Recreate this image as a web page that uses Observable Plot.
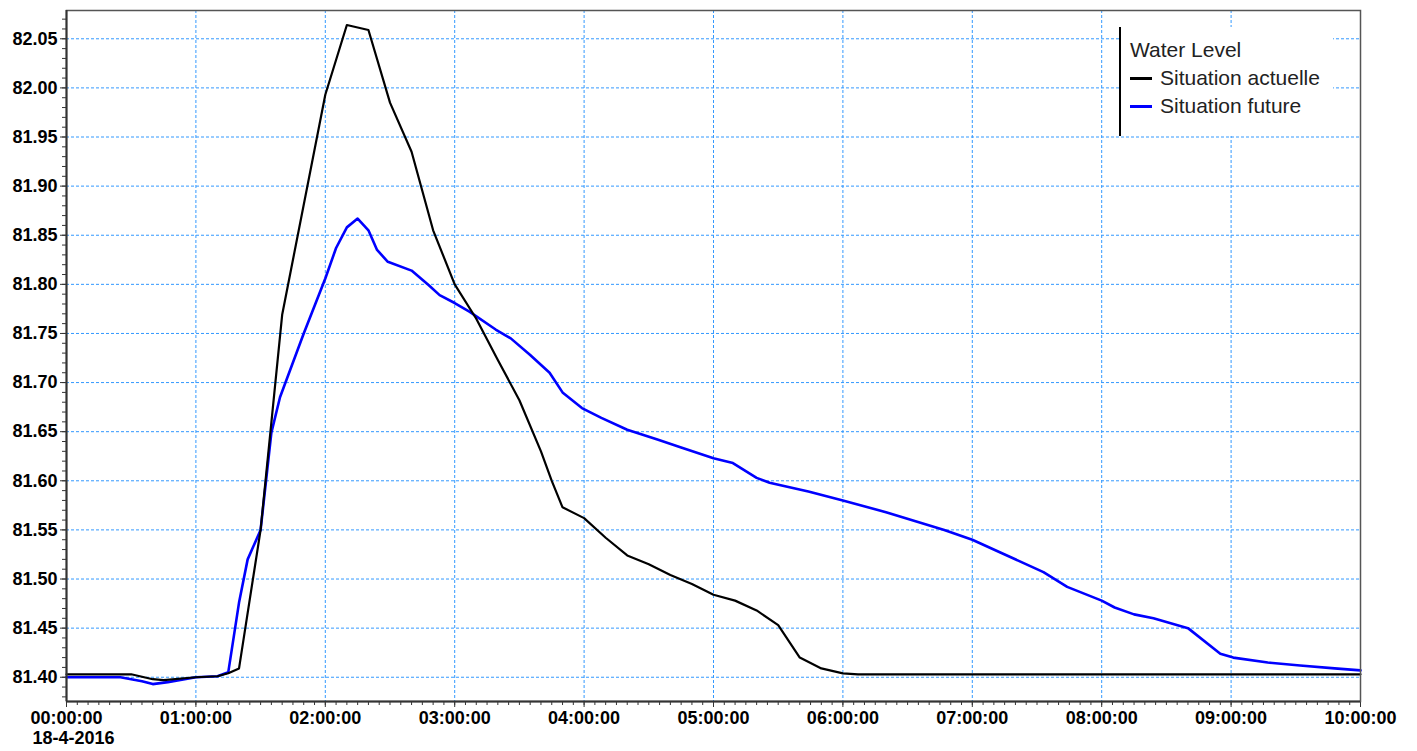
<!DOCTYPE html>
<html>
<head>
<meta charset="utf-8">
<script src="https://cdn.jsdelivr.net/npm/d3@7"></script>
<script src="https://cdn.jsdelivr.net/npm/@observablehq/plot@0.6"></script>
<style>
  html, body { margin: 0; padding: 0; background: #fff; }
  #wrap { position: relative; width: 1417px; height: 751px; }
  #legend {
    position: absolute; left: 1119px; top: 27px; width: 214px; height: 109px;
    background: #fff; border-left: 2px solid #000; box-sizing: border-box;
    font-family: "Liberation Sans", Arial, sans-serif; font-size: 21px; color: #222;
    padding: 9px 0 0 9px; line-height: 28px;
  }
  #legend .row { display: flex; align-items: center; white-space: nowrap; }
  #legend .sw { display: inline-block; width: 22px; height: 3px; margin-right: 8px; }
</style>
</head>
<body>
<div id="wrap"></div>
<script>
// ---- Data (time in minutes since 00:00:00 on 18-4-2016, water level in m) ----
const actualTime = [0, 30, 40, 45, 60, 70, 75, 80, 90, 100, 120, 130, 140, 150, 160, 170, 180, 190, 200, 210, 220, 225, 230, 240, 250, 260, 270, 280, 290, 300, 310, 320, 330, 340, 350, 360, 367, 600];
const actualLevel = [81.403, 81.403, 81.398, 81.397, 81.400, 81.401, 81.404, 81.409, 81.55, 81.769, 81.993, 82.064, 82.059, 81.985, 81.935, 81.855, 81.800, 81.765, 81.723, 81.682, 81.630, 81.600, 81.573, 81.562, 81.542, 81.524, 81.515, 81.504, 81.495, 81.484, 81.478, 81.468, 81.453, 81.420, 81.409, 81.404, 81.403, 81.403];

const futureTime = [0, 25, 35, 40, 47, 60, 70, 75, 80, 84, 90, 95, 99, 110, 120, 125, 130, 135, 140, 144, 149, 160, 168, 173, 180, 187, 199, 206, 215, 224, 230, 239, 248, 260, 274, 285, 300, 309, 320, 326, 344, 360, 380, 407, 420, 433, 453, 464, 480, 486, 495, 504, 520, 535, 541, 557, 572, 588, 600];
const futureLevel = [81.400, 81.400, 81.396, 81.393, 81.395, 81.400, 81.401, 81.405, 81.476, 81.520, 81.550, 81.649, 81.685, 81.750, 81.806, 81.837, 81.858, 81.867, 81.855, 81.835, 81.823, 81.814, 81.799, 81.789, 81.781, 81.772, 81.754, 81.745, 81.728, 81.710, 81.690, 81.674, 81.664, 81.652, 81.642, 81.634, 81.623, 81.618, 81.603, 81.598, 81.589, 81.580, 81.568, 81.550, 81.540, 81.527, 81.507, 81.492, 81.478, 81.471, 81.464, 81.460, 81.450, 81.424, 81.420, 81.415, 81.412, 81.409, 81.407];

const seriesNames = ["Situation actuelle", "Situation future"];
const seriesColors = ["#000000", "#0000ff"];
const legendTitle = "Water Level";
const dateLabel = "18-4-2016";

const yTicks = [81.40, 81.45, 81.50, 81.55, 81.60, 81.65, 81.70, 81.75, 81.80, 81.85, 81.90, 81.95, 82.00, 82.05];
const xTicks = [0, 60, 120, 180, 240, 300, 360, 420, 480, 540, 600];
const xTickLabels = ["00:00:00", "01:00:00", "02:00:00", "03:00:00", "04:00:00", "05:00:00", "06:00:00", "07:00:00", "08:00:00", "09:00:00", "10:00:00"];

// ---- Build ----
const yDomain = [81.3753, 82.0788];
const yMinor = d3.range(8138, 8208).map(v => v / 100).filter(v => v >= yDomain[0] && v <= yDomain[1]);
const xMinor = d3.range(0, 601, 5);

const actual = actualTime.map((t, i) => ({t, v: actualLevel[i]}));
const future = futureTime.map((t, i) => ({t, v: futureLevel[i]}));

const gridStyle = {stroke: "#3399ff", strokeOpacity: 1, strokeWidth: 1, strokeDasharray: "3,2"};
const labelFont = {fontSize: 18, fontWeight: "bold", fontFamily: "'Liberation Sans', Arial, sans-serif", fill: "#000"};

const chart = Plot.plot({
  width: 1417,
  height: 751,
  marginLeft: 66,
  marginRight: 57,
  marginTop: 10,
  marginBottom: 50,
  style: {fontFamily: "'Liberation Sans', Arial, sans-serif", fontSize: "18px", fontWeight: "bold", color: "#000", background: "#fff", overflow: "visible"},
  x: {domain: [0, 600], label: null},
  y: {domain: yDomain, label: null},
  marks: [
    Plot.gridX(xTicks, gridStyle),
    Plot.gridY(yTicks, gridStyle),
    Plot.axisY(yMinor, {tickSize: 4, tickFormat: () => "", stroke: "#333", label: null}),
    Plot.axisY(yTicks, {tickSize: 6, tickPadding: 3, tickFormat: d => d.toFixed(2), stroke: "#333", label: null, ...labelFont}),
    Plot.axisX(xMinor, {tickSize: 4, tickFormat: () => "", stroke: "#333", label: null}),
    Plot.axisX(xTicks, {tickSize: 6, tickPadding: 4, tickFormat: d => xTickLabels[xTicks.indexOf(d)], stroke: "#333", label: null, ...labelFont}),
    Plot.line(future, {x: "t", y: "v", stroke: seriesColors[1], strokeWidth: 2.6}),
    Plot.line(actual, {x: "t", y: "v", stroke: seriesColors[0], strokeWidth: 2.2}),
    Plot.frame({stroke: "#555", strokeWidth: 1.5}),
    Plot.ruleX([0], {stroke: "#333", strokeWidth: 2}),
    Plot.ruleY([yDomain[0]], {stroke: "#333", strokeWidth: 2}),
    Plot.text([dateLabel], {frameAnchor: "bottom-left", dx: -34, dy: 42, textAnchor: "start", ...labelFont})
  ]
});

const wrap = document.getElementById("wrap");
wrap.appendChild(chart);

const legend = document.createElement("div");
legend.id = "legend";
legend.innerHTML = `<div class="row">${legendTitle}</div>` +
  seriesNames.map((n, i) => `<div class="row"><span class="sw" style="background:${seriesColors[i]}"></span>${n}</div>`).join("");
wrap.appendChild(legend);
</script>
</body>
</html>
